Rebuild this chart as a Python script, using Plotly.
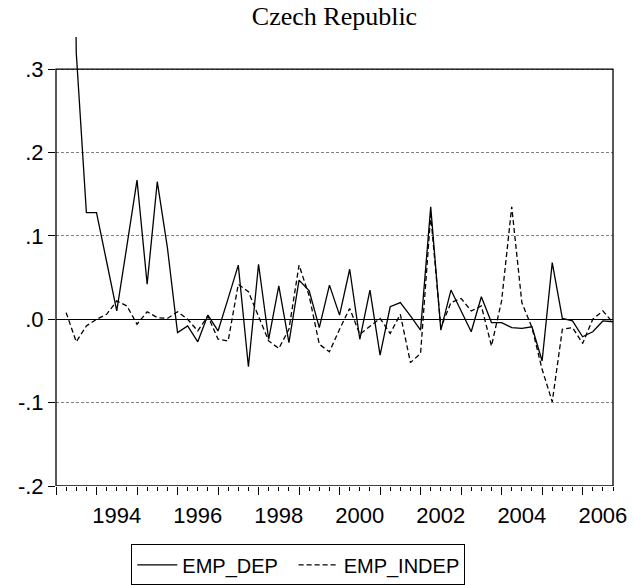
import plotly.graph_objects as go

# Quarterly observations 1993Q1 .. 2006Q4
years = list(range(1993, 2007))
quarters = [y + q * 0.25 for y in years for q in range(4)]

emp_dep = [None, 1.60, 0.32, 0.128,
           0.128, 0.069, 0.010, 0.088,
           0.167, 0.042, 0.165, 0.086,
           -0.016, -0.008, -0.027, 0.005,
           -0.014, 0.025, 0.065, -0.057,
           0.066, -0.024, 0.040, -0.028,
           0.047, 0.034, -0.010, 0.041,
           0.005, 0.060, -0.024, 0.035,
           -0.043, 0.015, 0.020, 0.004,
           -0.013, 0.135, -0.013, 0.035,
           0.010, -0.015, 0.027, -0.004,
           -0.004, -0.010, -0.011, -0.009,
           -0.050, 0.068, 0.001, -0.002,
           -0.021, -0.015, -0.002, -0.003]

emp_indep = [None, 0.008, -0.027, -0.008,
             0.000, 0.006, 0.022, 0.016,
             -0.006, 0.009, 0.002, 0.001,
             0.009, 0.000, -0.014, 0.004,
             -0.024, -0.026, 0.042, 0.033,
             0.004, -0.026, -0.035, -0.012,
             0.065, 0.028, -0.030, -0.039,
             -0.012, 0.013, -0.018, -0.008,
             0.001, -0.017, 0.006, -0.052,
             -0.041, 0.125, -0.010, 0.020,
             0.025, 0.010, 0.016, -0.032,
             0.022, 0.135, 0.020, -0.010,
             -0.060, -0.099, -0.012, -0.010,
             -0.029, 0.000, 0.010, -0.004]

y_ticks = [-0.2, -0.1, 0.0, 0.1, 0.2, 0.3]
y_ticktext = ["-.2", "-.1", ".0", ".1", ".2", ".3"]
label_years = [1994, 1996, 1998, 2000, 2002, 2004, 2006]

x_range = [1993.0, 2006.75]
y_range = [-0.2, 0.3386]

fig = go.Figure()
fig.add_trace(go.Scatter(x=quarters, y=emp_dep, mode="lines", name="EMP_DEP  ",
                         line=dict(color="black", width=1.3)))
fig.add_trace(go.Scatter(x=quarters, y=emp_indep, mode="lines", name="EMP_INDEP",
                         line=dict(color="black", width=1.3, dash="5px,3px")))
# invisible helper trace for the label axis
fig.add_trace(go.Scatter(x=[x_range[0]], y=[0], xaxis="x2", mode="markers",
                         marker=dict(opacity=0), showlegend=False, hoverinfo="skip"))

font_sans = "Liberation Sans, Arial, sans-serif"

fig.update_layout(
    template="none",
    width=634, height=585,
    margin=dict(l=56, r=21, t=37, b=99, autoexpand=False),
    paper_bgcolor="white", plot_bgcolor="white",
    title=dict(text="Czech Republic", x=0.5, xref="paper", xanchor="center",
               y=0.988, yref="container", yanchor="top", automargin=False,
               font=dict(family="Liberation Serif, Times New Roman, serif", size=26, color="black")),
    xaxis=dict(range=x_range, showgrid=False, zeroline=False, showline=False,
               automargin=False,
               tickmode="linear", tick0=1993, dtick=1, showticklabels=False,
               ticks="outside", ticklen=8, tickwidth=1, tickcolor="black",
               minor=dict(dtick=0.25, tick0=1993, ticks="outside", ticklen=4,
                          tickwidth=1, tickcolor="black", showgrid=False)),
    xaxis2=dict(range=x_range, overlaying="x", side="bottom", anchor="y",
                showgrid=False, zeroline=False, showline=False, automargin=False,
                tickmode="array", tickvals=[y + 0.5 for y in label_years],
                ticktext=[str(y) for y in label_years],
                ticks="outside", ticklen=10, tickcolor="rgba(0,0,0,0)",
                tickfont=dict(family=font_sans, size=22, color="black")),
    yaxis=dict(range=y_range, tickmode="array", tickvals=y_ticks, ticktext=y_ticktext,
               ticks="outside", ticklen=7, tickwidth=1, tickcolor="black",
               showgrid=True, gridcolor="#808080", gridwidth=1, griddash="3px,2px",
               zeroline=True, zerolinecolor="black", zerolinewidth=1.2,
               showline=False, automargin=False,
               tickfont=dict(family=font_sans, size=22, color="black")),
    legend=dict(orientation="h", x=0.435, xanchor="center", y=-0.13, yanchor="top",
                bordercolor="black", borderwidth=1, bgcolor="white",
                font=dict(family=font_sans, size=20, color="black"),
                itemwidth=40, tracegroupgap=0),
    showlegend=True,
)

fig.add_shape(type="rect", xref="paper", yref="y", x0=0, x1=1, y0=-0.2, y1=0.3,
              line=dict(color="black", width=1.3), fillcolor="rgba(0,0,0,0)", layer="above")

fig.write_html("out.html", config={"displayModeBar": False},
               post_script="document.body.style.margin='0';document.body.style.overflow='hidden';")
